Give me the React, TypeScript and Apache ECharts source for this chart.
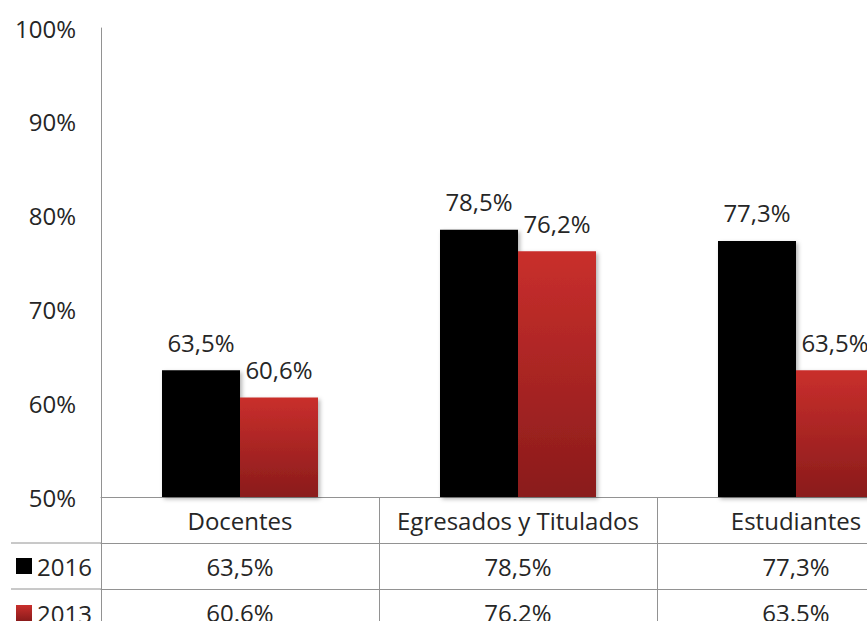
import React, { useEffect, useRef } from "react";
import * as echarts from "echarts";

const categories = ["Docentes", "Egresados y Titulados", "Estudiantes"];
const seriesNames = ["2016", "2013"];
const values2016 = [63.5, 78.5, 77.3];
const values2013 = [60.6, 76.2, 63.5];
const yMin = 50;
const yMax = 100;
const yStep = 10;

const fmtComma = (v: number) => v.toFixed(1).replace(".", ",") + "%";
const fmtDot = (v: number) => v.toFixed(1) + "%";

const FONT = "Open Sans";
const TXT = "#262626";
const LINE = "#929292";
const FS = 24;

export default function App() {
  const ref = useRef<HTMLDivElement>(null);
  useEffect(() => {
    if (!ref.current) return;
    const chart = echarts.init(ref.current, undefined, { renderer: "svg" });
    const red = new echarts.graphic.LinearGradient(0, 0, 0, 1, [
      { offset: 0, color: "#c92f2c" },
      { offset: 1, color: "#8a1b1b" },
    ]);
    const shadow = {
      shadowBlur: 4,
      shadowOffsetX: 2,
      shadowOffsetY: 2,
      shadowColor: "rgba(0,0,0,0.3)",
    };
    const rowAxis = (data: string[], offset: number) => ({
      type: "category",
      data,
      position: "bottom",
      offset,
      axisLine: { show: true, lineStyle: { color: LINE, width: 1 } },
      axisTick: { show: true, interval: 0, length: 46, lineStyle: { color: LINE, width: 1 } },
      axisLabel: {
        interval: 0,
        margin: 23,
        verticalAlign: "middle",
        color: TXT,
        fontFamily: FONT,
        fontSize: FS,
      },
      splitLine: { show: false },
    });
    const rowLegend = (name: string, top: number) => ({
      data: [name],
      orient: "vertical",
      left: 16,
      top,
      padding: 0,
      itemWidth: 16,
      itemHeight: 16,
      icon: "rect",
      itemStyle: { shadowBlur: 0, shadowOffsetX: 0, shadowOffsetY: 0 },
      textStyle: { fontFamily: FONT, fontSize: FS, color: TXT, padding: [0, 0, 0, 0] },
    });
    chart.setOption({
      animation: false,
      backgroundColor: "#ffffff",
      textStyle: { fontFamily: FONT },
      grid: { left: 101, right: -68, top: 28, bottom: 124, outerBoundsMode: "none" },
      legend: [rowLegend(seriesNames[0], 554), rowLegend(seriesNames[1], 601)],
      xAxis: [
        rowAxis(categories, 0),
        rowAxis(values2016.map(fmtComma), 46),
        rowAxis(values2013.map(fmtDot), 92),
      ],
      yAxis: {
        type: "value",
        min: yMin,
        max: yMax,
        interval: yStep,
        axisLine: { show: true, lineStyle: { color: LINE, width: 1 } },
        axisTick: { show: false },
        splitLine: { show: false },
        axisLabel: {
          formatter: "{value}%",
          margin: 25,
          color: TXT,
          fontFamily: FONT,
          fontSize: FS,
        },
      },
      series: [
        {
          name: seriesNames[0],
          type: "bar",
          xAxisIndex: 0,
          data: values2016,
          barWidth: 78,
          barGap: "0%",
          itemStyle: { color: "#000000", ...shadow },
          label: {
            show: true,
            position: "top",
            distance: 16,
            formatter: (p: any) => fmtComma(p.value),
            color: TXT,
            fontFamily: FONT,
            fontSize: FS,
          },
        },
        {
          name: seriesNames[1],
          type: "bar",
          xAxisIndex: 0,
          data: values2013,
          barWidth: 78,
          barGap: "0%",
          itemStyle: { color: red, ...shadow },
          label: {
            show: true,
            position: "top",
            distance: 16,
            formatter: (p: any) => fmtComma(p.value),
            color: TXT,
            fontFamily: FONT,
            fontSize: FS,
          },
        },
      ],
      graphic: [
        { type: "line", shape: { x1: 11, y1: 543, x2: 101, y2: 543 }, style: { stroke: LINE, lineWidth: 1 } },
        { type: "line", shape: { x1: 11, y1: 589, x2: 101, y2: 589 }, style: { stroke: LINE, lineWidth: 1 } },
      ],
    });
    return () => chart.dispose();
  }, []);
  return (
    <div
      ref={ref}
      style={{ position: "absolute", left: 0, top: 0, width: 867, height: 621, overflow: "hidden" }}
    />
  );
}
